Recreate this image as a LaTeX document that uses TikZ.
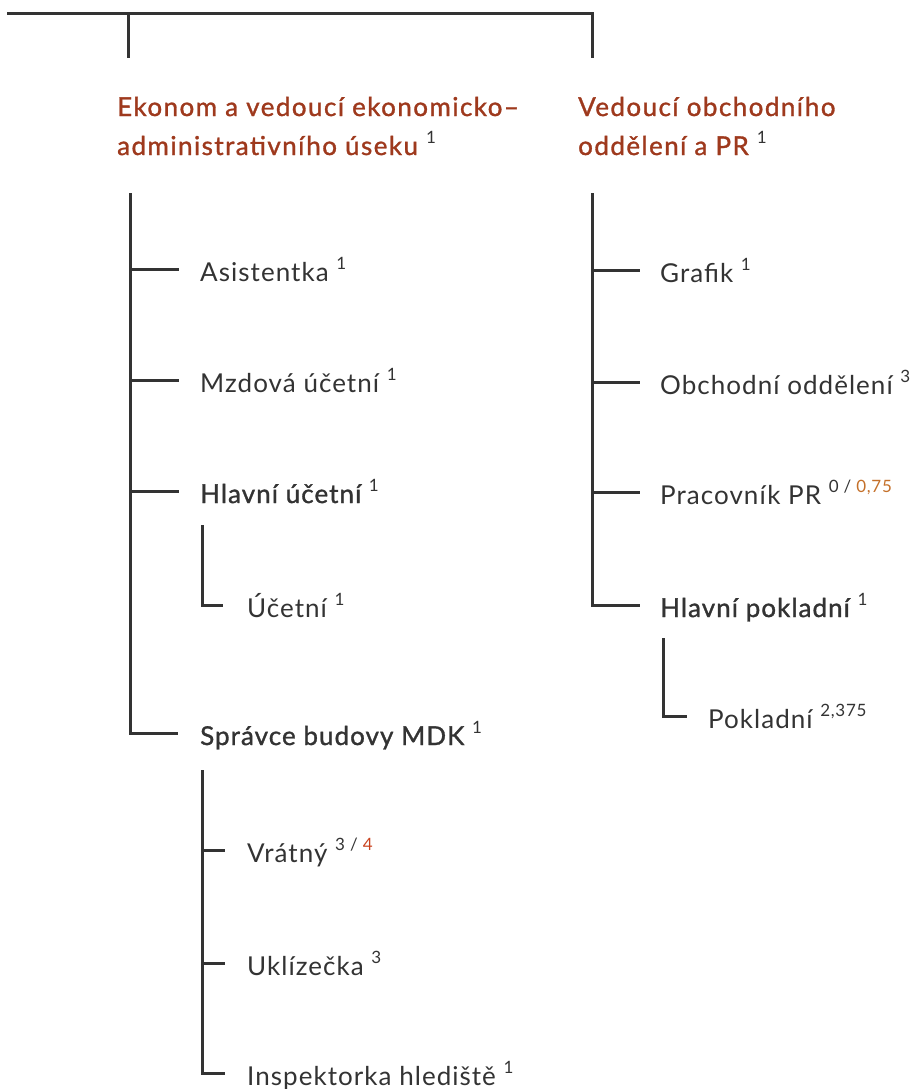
\documentclass[tikz,border=0pt]{standalone}
\usepackage{fontspec}
\setmainfont{Lato}[LetterSpace=4]
\newfontfamily\semifont{Lato}[FakeBold=1.2,LetterSpace=4]
\newfontfamily\headfont{Lato}[FakeBold=1.2,LetterSpace=5.5]
\usetikzlibrary{calc}
\definecolor{lineC}{HTML}{333333}
\definecolor{textC}{HTML}{333333}
\definecolor{headC}{HTML}{9E391D}
\definecolor{orgC}{HTML}{C4702A}
\definecolor{redC}{HTML}{C9431F}
\newcommand\supx[1]{\raisebox{0.45em}{\normalfont\fontsize{17}{17}\selectfont #1}}
\tikzset{
  conn/.style={draw=lineC, line width=3pt},
  item/.style={anchor=west, inner sep=0pt, text height=24pt, text depth=0pt, text=textC, font=\fontsize{26}{30}\selectfont},
  bitem/.style={item, font=\fontsize{26}{30}\selectfont\semifont},
  head/.style={anchor=base west, inner sep=0pt, align=left, text=headC, font=\fontsize{26}{39}\selectfont\headfont},
}
\begin{document}
\begin{tikzpicture}[x=1pt,y=-1pt]
\useasboundingbox (0,0) rectangle (920,1089);
% top bar
\coordinate (T0) at (7,14);
\coordinate (TL) at (128,14);
\coordinate (TR) at (592,14);
\coordinate (TLd) at (128,58);
\coordinate (TRd) at (592,58);
\draw[conn] (T0) -- (TR) -- (TRd);
\draw[conn] (TL) -- (TLd);
% headings (base = baseline of the last line)
\node[head] (hL) at (117,155) {Ekonom a vedoucí ekonomicko–\\administrativního úseku~\textcolor{textC}{\supx{1}}};
\node[head] (hR) at (578,155) {Vedoucí obchodního\\oddělení a PR~\textcolor{textC}{\supx{1}}};
% left column
\node[item] (asis) at (200,269) {Asistentka~\supx{1}};
\node[item] (mzd) at (200,380) {Mzdová účetní~\supx{1}};
\node[bitem] (hlu) at (200,491) {Hlavní účetní~\supx{1}};
\node[item] (uce) at (247,605) {Účetní~\supx{1}};
\node[bitem] (spr) at (200,733) {Správce budovy MDK~\supx{1}};
\node[item] (vra) at (247,850) {Vrátný~\supx{3 / \textcolor{redC}{4}}};
\node[item] (ukl) at (247,963) {Uklízečka~\supx{3}};
\node[item] (ins) at (247,1073) {Inspektorka hlediště~\supx{1}};
% right column
\node[item] (gra) at (660,270) {Grafik~\supx{1}};
\node[item] (obc) at (660,382) {Obchodní oddělení~\supx{3}};
\node[item] (pra) at (660,492) {Pracovník PR~\supx{0 / \textcolor{orgC}{0,75}}};
\node[bitem] (hlp) at (660,605) {Hlavní pokladní~\supx{1}};
\node[item] (pok) at (708,716) {Pokladní~\supx{2,375}};
% left trunk
\coordinate (L0) at (130,193);
\draw[conn, shorten >=22pt] (L0) |- (spr.west);
\draw[conn, shorten >=21pt] (L0 |- asis.west) -- (asis.west);
\draw[conn, shorten >=21pt] (L0 |- mzd.west) -- (mzd.west);
\draw[conn, shorten >=21pt] (L0 |- hlu.west) -- (hlu.west);
% sub trunk under Hlavni ucetni
\coordinate (S0) at (202,525);
\draw[conn, shorten >=24pt] (S0) |- (uce.west);
% sub trunk under Spravce
\coordinate (V0) at (202,770);
\draw[conn, shorten >=22pt] (V0) |- (ins.west);
\draw[conn, shorten >=22pt] (V0 |- vra.west) -- (vra.west);
\draw[conn, shorten >=22pt] (V0 |- ukl.west) -- (ukl.west);
% right trunk
\coordinate (R0) at (592,193);
\draw[conn, shorten >=20pt] (R0) |- (hlp.west);
\draw[conn, shorten >=20pt] (R0 |- gra.west) -- (gra.west);
\draw[conn, shorten >=20pt] (R0 |- obc.west) -- (obc.west);
\draw[conn, shorten >=20pt] (R0 |- pra.west) -- (pra.west);
% sub trunk under Hlavni pokladni
\coordinate (P0) at (663,638);
\draw[conn, shorten >=21pt] (P0) |- (pok.west);
\end{tikzpicture}
\end{document}
